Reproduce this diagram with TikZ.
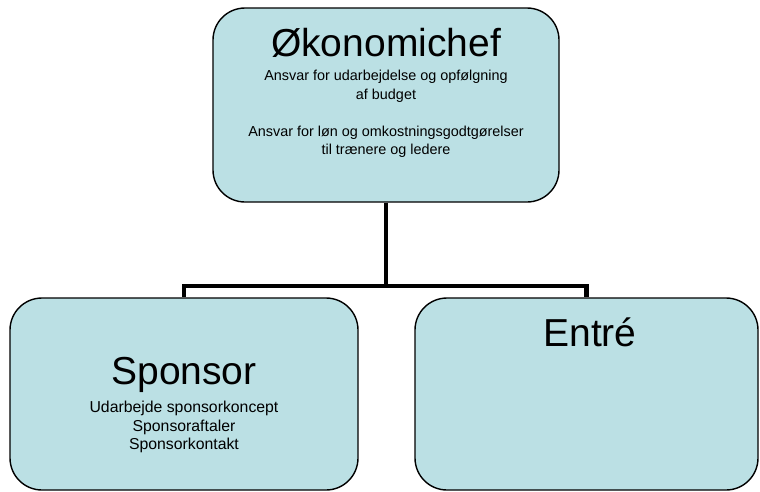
\documentclass[tikz,border=0pt]{standalone}
\usepackage{fontspec}
\usepackage{xcolor}
\usepackage{tikz}
\setmainfont{Liberation Sans}
\definecolor{boxfill}{RGB}{187,224,228}

\begin{document}
\begin{tikzpicture}[x=1pt,y=-1pt,draw=black]
    \tikzstyle{unit}=[rounded corners=32pt,draw=black,line width=1.4pt,fill=boxfill,inner sep=0pt]
    \tikzstyle{title}=[inner sep=0pt,font=\fontsize{39}{44}\selectfont]
    \tikzstyle{annot}=[inner sep=0pt,align=center,font=\fontsize{14.4}{18.6}\selectfont]
    \tikzstyle{annot big}=[annot,font=\fontsize{15.8}{18.6}\selectfont]
    \tikzstyle{link}=[line width=4.6pt]

    \useasboundingbox (0,0) rectangle (760,491);

    % Draw the boxes
    \node[unit,minimum width=346pt,minimum height=194pt] (chef) at (386,105) {};
    \node[unit,minimum width=348pt,minimum height=192pt] (sponsor) at (184,394) {};
    \node[unit,minimum width=343pt,minimum height=192pt] (entre) at (586.5,394) {};

    % Connect the top box with the two boxes below
    \coordinate (split) at (386,286);
    \draw[link] (chef.south) -- (split);
    \draw[link] (split) -| (sponsor.north);
    \draw[link] (split) -| (entre.north);

    % Texts in the boxes
    \node[title] (chef-t) at (386,43) {Økonomichef};
    \node[annot] (chef-a) at (386,114) {Ansvar for udarbejdelse og opfølgning\\af budget\\[18.6pt]Ansvar for løn og omkostningsgodtgørelser\\til trænere og ledere};
    \node[title] (sponsor-t) at (184,375) {Sponsor};
    \node[annot big] (sponsor-a) at (184,427) {Udarbejde sponsorkoncept\\Sponsoraftaler\\Sponsorkontakt};
    \node[title] (entre-t) at (590,332) {Entré};

\end{tikzpicture}
\end{document}
